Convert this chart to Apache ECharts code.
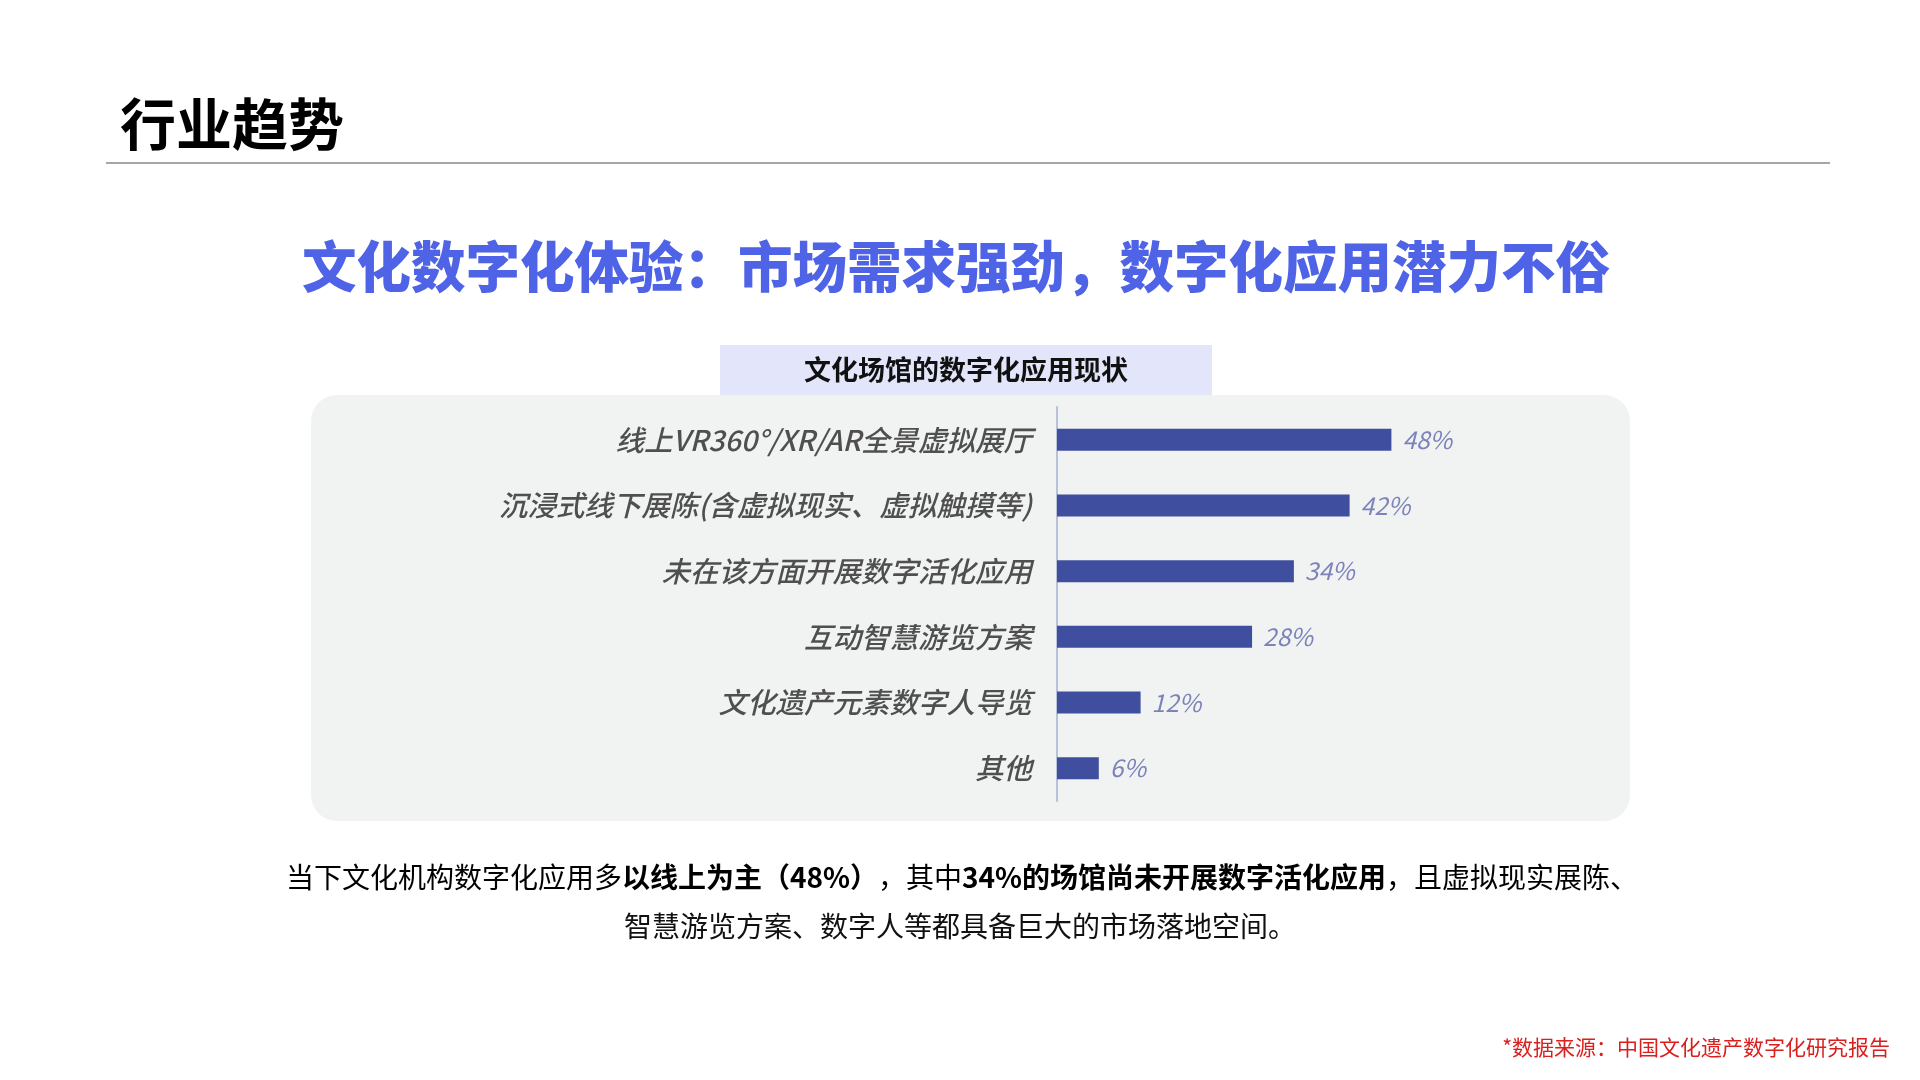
<!DOCTYPE html>
<html>
<head>
<meta charset="utf-8">
<title>行业趋势</title>
<script src="https://cdn.jsdelivr.net/npm/echarts@6/dist/echarts.min.js"></script>
<style>
  html, body { margin: 0; padding: 0; background: #fff; }
  #main { width: 1920px; height: 1080px; }
</style>
</head>
<body>
<div id="main"></div>
<script>
// data
var categories = [
    '线上VR360°/XR/AR全景虚拟展厅',
    '沉浸式线下展陈(含虚拟现实、虚拟触摸等)',
    '未在该方面开展数字活化应用',
    '互动智慧游览方案',
    '文化遗产元素数字人导览',
    '其他'
];
var shares = [48, 42, 34, 28, 12, 6];

var pageTitle = '行业趋势';
var headline = '文化数字化体验：市场需求强劲，数字化应用潜力不俗';
var chartTitle = '文化场馆的数字化应用现状';
var noteLine1 = '{n|当下文化机构数字化应用多}{b|以线上为主（48%）}{n|，其中}{b|34%的场馆尚未开展数字活化应用}{n|，且虚拟现实展陈、}';
var noteLine2 = '智慧游览方案、数字人等都具备巨大的市场落地空间。';
var source = '*数据来源：中国文化遗产数字化研究报告';

var font = '"Noto Sans CJK SC", "Noto Sans", sans-serif';

var chart = echarts.init(document.getElementById('main'));

chart.setOption({
    backgroundColor: '#ffffff',
    animation: false,
    graphic: [
        // chart panel + title tab, drawn below the series
        { type: 'rect', z: -10, shape: { x: 311, y: 395, width: 1319, height: 426, r: 26 },
          style: { fill: '#f1f3f2' } },
        { type: 'rect', z: -9, shape: { x: 720, y: 345, width: 492, height: 50 },
          style: { fill: '#e3e5fa' } },
        { type: 'text', x: 966, y: 370,
          style: { text: chartTitle, font: 'bold 27px ' + font, fill: '#111', align: 'center', verticalAlign: 'middle' } },

        // header
        { type: 'text', x: 120, y: 124,
          style: { text: pageTitle, font: 'bold 56px ' + font, fill: '#000', verticalAlign: 'middle' } },
        { type: 'line', shape: { x1: 106, y1: 163, x2: 1830, y2: 163 },
          style: { stroke: '#8a8a8a', lineWidth: 1.5 } },
        { type: 'text', x: 956, y: 266,
          style: { text: headline, font: '900 54.5px ' + font, fill: '#4f63e6', align: 'center', verticalAlign: 'middle' } },

        // notes below chart
        { type: 'text', x: 962, y: 877,
          style: {
              text: noteLine1, align: 'center', verticalAlign: 'middle',
              rich: {
                  n: { fontFamily: font, fontSize: 28, color: '#111' },
                  b: { fontFamily: font, fontSize: 28, fontWeight: 'bold', color: '#111' }
              }
          } },
        { type: 'text', x: 960, y: 926,
          style: { text: noteLine2, font: '28px ' + font, fill: '#111', align: 'center', verticalAlign: 'middle' } },
        { type: 'text', x: 1890, y: 1047,
          style: { text: source, font: '21px ' + font, fill: '#d9201e', align: 'right', verticalAlign: 'middle' } }
    ],
    grid: { left: 1057, top: 407, width: 418, height: 394, containLabel: false },
    xAxis: {
        type: 'value',
        min: 0,
        max: 60,
        show: false
    },
    yAxis: {
        type: 'category',
        data: categories,
        inverse: true,
        axisTick: { show: false },
        axisLine: { show: true, lineStyle: { color: '#b7c1d8', width: 2 } },
        axisLabel: {
            margin: 25,
            fontFamily: font,
            fontSize: 28.5,
            fontStyle: 'italic',
            fontWeight: 500,
            color: '#4f4f4f'
        }
    },
    series: [{
        type: 'bar',
        data: shares,
        barWidth: 22,
        itemStyle: { color: '#3f4e9e' },
        label: {
            show: true,
            position: 'right',
            distance: 11,
            formatter: '{c}%',
            fontFamily: font,
            fontSize: 24.5,
            fontStyle: 'italic',
            color: '#7c83bb'
        }
    }]
});
</script>
</body>
</html>
